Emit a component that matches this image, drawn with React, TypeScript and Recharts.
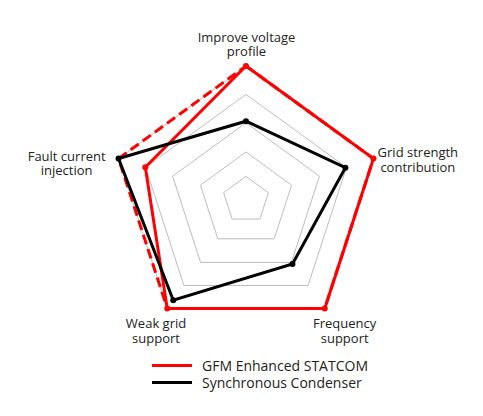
import React from 'react';
import {
  RadarChart,
  Radar,
  PolarGrid,
  PolarAngleAxis,
  PolarRadiusAxis,
  Legend,
} from 'recharts';

// axis categories, clockwise from the top
const categories = [
  'Improve voltage profile',
  'Grid strength contribution',
  'Frequency support',
  'Weak grid support',
  'Fault current injection',
];
const labelLines = [
  ['Improve voltage', 'profile'],
  ['Grid strength', 'contribution'],
  ['Frequency', 'support'],
  ['Weak grid', 'support'],
  ['Fault current', 'injection'],
];

const gfmStatcom = [5, 5, 5, 5, 3.95];
const syncCondenser = [2.94, 3.9, 2.95, 4.62, 5];
const gfmOutline = [5, 5, 5, 5, 5];

const ringLevels = [0.88, 1.79, 2.88, 3.94, 5];
const MAX_SCORE = 5;

const CX = 246;
const CY = 200;
const OUTER_R = 134;
const RED = '#ff0000';
const BLACK = '#000000';
const FONT = '"Open Sans", sans-serif';

// nudge of each label block centre from the default tick point
const LABEL_NUDGE = [
  [0.5, -13.5],
  [36.8, 3.7],
  [15.2, 16],
  [-6.5, 16],
  [-44.3, 7.2],
];

const data = categories.map((c, i) => ({
  subject: c,
  gfm: gfmStatcom[i],
  sync: syncCondenser[i],
  outline: gfmOutline[i],
}));

const AngleTick = (props: any) => {
  const { x, y, payload, index } = props;
  const idx = typeof index === 'number' ? index : categories.indexOf(payload.value);
  const lines = labelLines[idx] || [payload.value];
  const [dx, dy] = LABEL_NUDGE[idx] || [0, 0];
  const lh = 14.5;
  const top = y + dy - ((lines.length - 1) * lh) / 2;
  return (
    <text
      x={x + dx}
      y={top}
      textAnchor="middle"
      fontSize={13}
      fontFamily={FONT}
      fill="#222"
    >
      {lines.map((l, i) => (
        <tspan key={i} x={x + dx} y={top + i * lh} dy="0.35em">
          {l}
        </tspan>
      ))}
    </text>
  );
};

const renderLegend = (props: any) => {
  const items = (props.payload || []).filter((p: any) => p.type !== 'none');
  return (
    <div style={{ fontFamily: FONT }}>
      {items.map((entry: any) => (
        <div
          key={entry.value}
          style={{ display: 'flex', alignItems: 'center', height: 17 }}
        >
          <span
            style={{
              display: 'inline-block',
              width: 40,
              height: 3,
              background: entry.color,
              marginRight: 10,
            }}
          />
          <span style={{ fontSize: 14, color: '#222', lineHeight: '17px' }}>
            {entry.value}
          </span>
        </div>
      ))}
    </div>
  );
};

export default function App() {
  return (
    <div style={{ position: 'absolute', left: 0, top: 0, width: 483, height: 416, background: '#fff' }}>
      <RadarChart
        width={483}
        height={416}
        data={data}
        cx={CX}
        cy={CY}
        outerRadius={OUTER_R}
        margin={{ top: 0, right: 0, bottom: 0, left: 0 }}
      >
        <PolarGrid
          gridType="polygon"
          radialLines={false}
          stroke="#bdbdbd"
          strokeWidth={1}
          polarRadius={ringLevels.map((v) => (v / MAX_SCORE) * OUTER_R)}
        />
        <PolarAngleAxis
          dataKey="subject"
          tick={<AngleTick />}
          tickLine={false}
          axisLine={false}
        />
        <PolarRadiusAxis
          domain={[0, MAX_SCORE]}
          tick={false}
          axisLine={false}
        />
        <Radar
          name="GFM outline"
          dataKey="outline"
          stroke={RED}
          strokeWidth={3}
          strokeDasharray="10 5"
          fill="none"
          fillOpacity={0}
          dot={false}
          legendType="none"
          isAnimationActive={false}
        />
        <Radar
          name="GFM Enhanced STATCOM"
          dataKey="gfm"
          stroke={RED}
          strokeWidth={3}
          fill="none"
          fillOpacity={0}
          dot={{ r: 3, fill: RED, stroke: RED, strokeWidth: 0, fillOpacity: 1 }}
          isAnimationActive={false}
        />
        <Radar
          name="Synchronous Condenser"
          dataKey="sync"
          stroke={BLACK}
          strokeWidth={3}
          fill="none"
          fillOpacity={0}
          dot={{ r: 3, fill: BLACK, stroke: BLACK, strokeWidth: 0, fillOpacity: 1 }}
          isAnimationActive={false}
        />
        <Legend
          content={renderLegend}
          wrapperStyle={{ left: 152, top: 357, width: 'auto', bottom: 'auto' }}
        />
      </RadarChart>
    </div>
  );
}
